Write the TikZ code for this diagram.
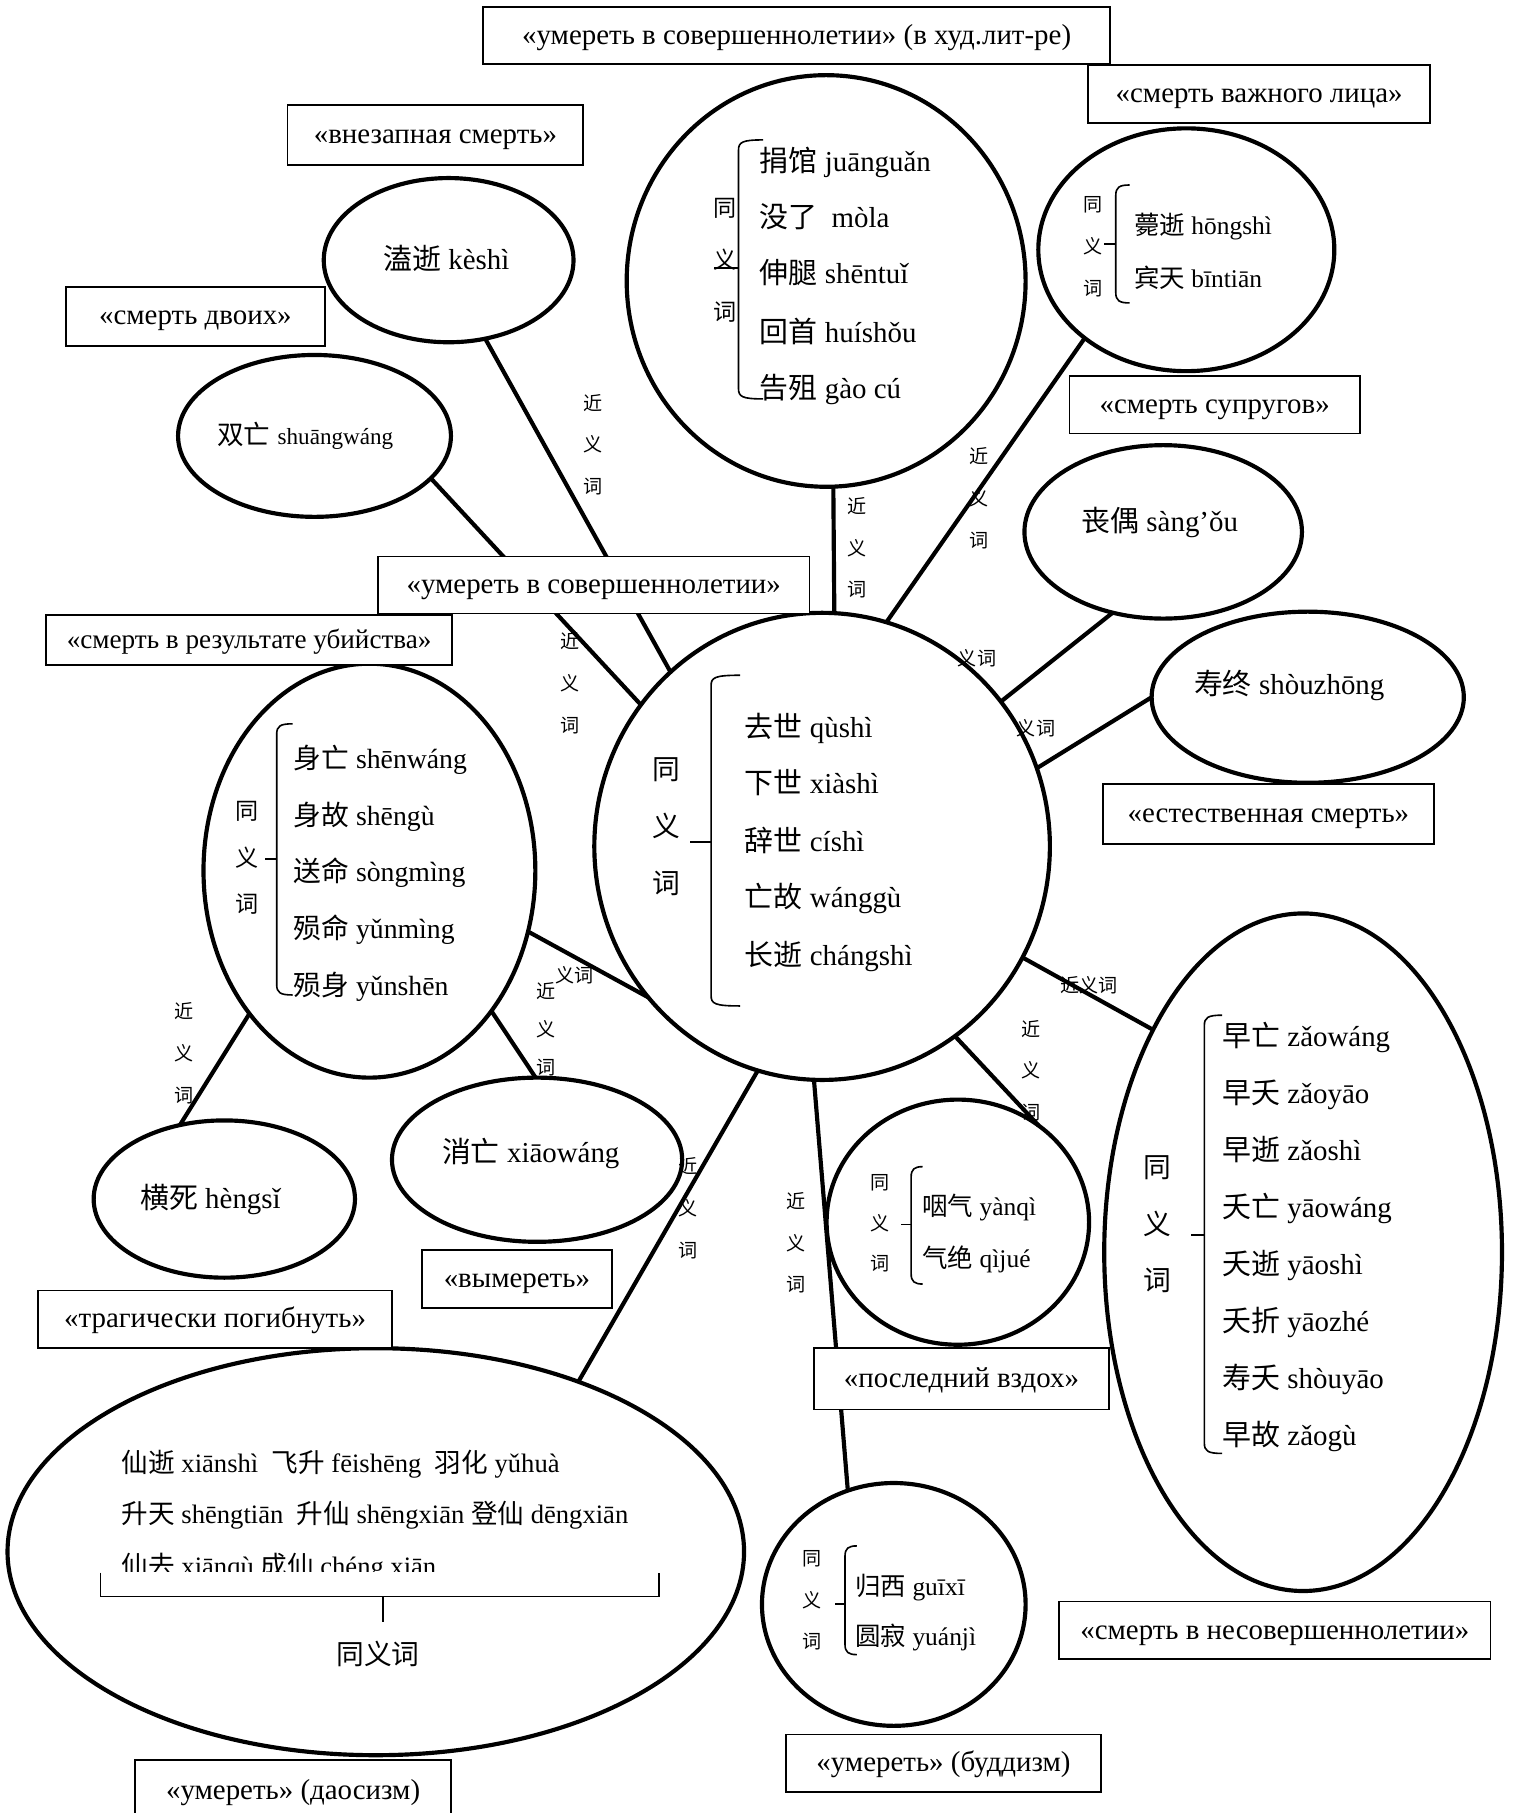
\documentclass[tikz,border=0pt]{standalone}
\usepackage{fontspec}
\setmainfont{Liberation Serif}
\newfontfamily\zhfont{Noto Sans CJK SC}
\usetikzlibrary{shapes.geometric}
\newcommand{\zh}[1]{{\zhfont #1}}
\newcommand{\mybrace}[6]{%
  \draw[brk] (#4,#2) .. controls (#1+3,#2) and (#1,#2+2) .. (#1,#2+9) -- (#1,#3-9) .. controls (#1,#3-2) and (#1+3,#3) .. (#4,#3);
  \draw[brk] (#1,#5) -- (#6,#5);}
\tikzset{
  ell/.style={draw, ellipse, line width=3.6pt, fill=white, inner sep=0pt, outer sep=0pt},
  conn/.style={line width=3.6pt},
  bx/.style={draw, rectangle, line width=1.5pt, fill=white, inner sep=0pt, text height=20pt, text depth=5pt, font=\fontsize{25}{30}\selectfont},
  brk/.style={line width=1.4pt},
  vl/.style={font=\zhfont\fontsize{16.5}{36}\selectfont, align=center, inner sep=0pt},
  hl/.style={font=\zhfont\fontsize{16.5}{20}\selectfont, inner sep=0pt},
  item/.style={anchor=base west, inner sep=0pt, font=\fontsize{25}{30}\selectfont},
  sitem/.style={anchor=base west, inner sep=0pt, font=\fontsize{22}{26}\selectfont},
  single/.style={anchor=base, inner sep=0pt, font=\fontsize{25}{30}\selectfont},
}
\begin{document}
\begin{tikzpicture}[x=1pt,y=-1pt]
\useasboundingbox (0,0) rectangle (1312,1568);
\fill[white] (0,0) rectangle (1312,1568);

% ellipses
\node[ell, minimum width=345, minimum height=356] (eTop) at (714.5,243) {};
\node[ell, minimum width=256, minimum height=210] (eTR) at (1026,216) {};
\node[ell, minimum width=216, minimum height=142] (eKeshi) at (388,225) {};
\node[ell, minimum width=236, minimum height=140] (eShuang) at (272,377) {};
\node[ell, minimum width=240, minimum height=150] (eSang) at (1006,460) {};
\node[ell, minimum width=270, minimum height=148] (eShou) at (1131,603) {};
\node[ell, minimum width=394, minimum height=404] (eC) at (711,732) {};
\node[ell, minimum width=287, minimum height=358] (eL) at (319.5,753) {};
\node[ell, minimum width=251, minimum height=142] (eXiao) at (464.5,1003) {};
\node[ell, minimum width=226, minimum height=136] (eHeng) at (194,1037) {};
\node[ell, minimum width=227, minimum height=212] (eYan) at (828.4,1057) {};
\node[ell, minimum width=344, minimum height=586] (eR) at (1127,1083) {};
\node[ell, minimum width=637, minimum height=352] (eBL) at (325,1342) {};
\node[ell, minimum width=228, minimum height=210] (eGui) at (773,1387.6) {};

% connectors
\draw[conn] (eTop.-88.8) -- (eC.87.9);
\draw[conn] (eKeshi.-65.1) -- (eC.131.6);
\draw[conn] (eShuang.-20.6) -- (eC.142.55);
\draw[conn] (eTR.-139.8) -- (eC.74.7);
\draw[conn] (eSang.-122.4) -- (eC.39.9);
\draw[conn] (eShou.180) -- (eC.20.6);
\draw[conn] (eC.-29.2) -- (eR.124.8);
\draw[conn] (eC.-55.1) -- (eYan.50.9);
\draw[conn] (eC.-92.3) -- (eGui.112.1);
\draw[conn] (eC.-106) -- (eBL.40.07);
\draw[conn] (eL.-21.1) -- (eC.-139.7);
\draw[conn] (eL.-49.7) -- (eXiao.91.4);
\draw[conn] (eL.-130.1) -- (eHeng.121.8);

% center circle
\node[vl, font=\zhfont\fontsize{24}{49.5}\selectfont] (cS) at (576.5,715) {同\\义\\词};
\mybrace{615}{584}{870}{640}{728}{597}
\node[item] (c1) at (644,637.4) {\zh{去世} qùshì};
\node[item] (c2) at (644,686.5) {\zh{下世} xiàshì};
\node[item] (c3) at (644,736) {\zh{辞世} císhì};
\node[item] (c4) at (644,785) {\zh{亡故} wánggù};
\node[item] (c5) at (644,835) {\zh{长逝} chángshì};

% top circle
\node[vl, font=\zhfont\fontsize{20}{45}\selectfont] (tS) at (626.7,225) {同\\义\\词};
\mybrace{638.7}{121}{345}{660}{231.8}{617.5}
\node[item] (t1) at (657,148) {\zh{捐馆} juānguǎn};
\node[item] (t2) at (657,196.4) {\zh{没了}\hspace{12pt}mòla};
\node[item] (t3) at (657,245.4) {\zh{伸腿} shēntuǐ};
\node[item] (t4) at (657,295.8) {\zh{回首} huíshǒu};
\node[item] (t5) at (657,344.8) {\zh{告殂} gào cú};

% top right circle
\node[vl] (trS) at (945,213.3) {同\\义\\词};
\mybrace{965}{160}{262}{977}{211}{955}
\node[sitem] (tr1) at (980.7,202.6) {\zh{薨逝} hōngshì};
\node[sitem] (tr2) at (980.7,248.7) {\zh{宾天} bīntiān};

% left circle
\node[vl, font=\zhfont\fontsize{20}{40}\selectfont] (lS) at (213.3,742) {同\\义\\词};
\mybrace{239.3}{626}{860.5}{253}{743}{229}
\node[item, font=\fontsize{24}{30}\selectfont] (l1i) at (253.7,664.7) {\zh{身亡} shēnwáng};
\node[item, font=\fontsize{24}{30}\selectfont] (l2i) at (253.7,713.8) {\zh{身故} shēngù};
\node[item, font=\fontsize{24}{30}\selectfont] (l3i) at (253.7,762.8) {\zh{送命} sòngmìng};
\node[item, font=\fontsize{24}{30}\selectfont] (l4i) at (253.7,811.6) {\zh{殒命} yǔnmìng};
\node[item, font=\fontsize{24}{30}\selectfont] (l5i) at (253.7,860.9) {\zh{殒身} yǔnshēn};

% yanqi circle
\node[vl, font=\zhfont\fontsize{16.5}{35}\selectfont] (yS) at (761,1058) {同\\义\\词};
\mybrace{788}{1009}{1110.5}{798}{1059}{779}
\node[sitem] (y1) at (797.6,1051.6) {\zh{咽气} yànqì};
\node[sitem] (y2) at (797.6,1096) {\zh{气绝} qìjué};

% guixi circle
\node[vl] (gS) at (702,1384) {同\\义\\词};
\mybrace{730.8}{1337}{1431}{741}{1387}{722}
\node[sitem] (g1) at (739.5,1380) {\zh{归西} guīxī};
\node[sitem] (g2) at (739.5,1423.5) {\zh{圆寂} yuánjì};

% right ellipse
\node[vl, font=\zhfont\fontsize{24}{49}\selectfont] (rS) at (1001.3,1059) {同\\义\\词};
\mybrace{1041.6}{878}{1257}{1057}{1068}{1030}
\node[item] (r1) at (1057,905) {\zh{早亡} zǎowáng};
\node[item] (r2) at (1057,954) {\zh{早夭} zǎoyāo};
\node[item] (r3) at (1057,1003.5) {\zh{早逝} zǎoshì};
\node[item] (r4) at (1057,1053) {\zh{夭亡} yāowáng};
\node[item] (r5) at (1057,1102) {\zh{夭逝} yāoshì};
\node[item] (r6) at (1057,1151.5) {\zh{夭折} yāozhé};
\node[item] (r7) at (1057,1201) {\zh{寿夭} shòuyāo};
\node[item] (r8) at (1057,1250.5) {\zh{早故} zǎogù};

% bottom-left ellipse
\node[sitem, font=\fontsize{23}{27}\selectfont] (bl1) at (105,1273.5) {\zh{仙逝} xiānshì\ \ \zh{飞升} fēishēng\ \ \zh{羽化} yǔhuà};
\node[sitem, font=\fontsize{23}{27}\selectfont] (bl2) at (105,1318) {\zh{升天} shēngtiān\ \ \zh{升仙} shēngxiān \zh{登仙} dēngxiān};
\begin{scope}
\clip (0,1320) rectangle (1312,1359);
\node[sitem, font=\fontsize{23}{27}\selectfont] (bl3) at (105,1363) {\zh{仙去} xiānqù \zh{成仙} chéng xiān};
\end{scope}
\draw[brk] (86.8,1360) -- (86.8,1380.8) -- (570,1380.8) -- (570,1360);
\draw[brk] (331,1380.8) -- (331,1402.5);
\node[hl, font=\zhfont\fontsize{24}{28}\selectfont] (blS) at (327,1430) {同义词};

% single ellipses
\node[single] (sK) at (386,233) {\zh{溘逝} kèshì};
\node[single] (sSh) at (264,384) {{\zhfont\fontsize{23}{28}\selectfont 双亡} {\fontsize{20}{24}\selectfont shuāngwáng}};
\node[single] (sSa) at (1003,460) {\zh{丧偶} sàng’ǒu};
\node[single] (sSo) at (1115,601) {\zh{寿终} shòuzhōng};
\node[single] (sX) at (459,1005) {\zh{消亡} xiāowáng};
\node[single] (sH) at (182,1045) {\zh{横死} hèngsǐ};

% labels
\node[vl] (n1) at (512.8,384.5) {近\\义\\词};
\node[vl] (n2) at (741.5,474) {近\\义\\词};
\node[vl] (n3) at (846.6,431) {近\\义\\词};
\node[vl] (n4) at (493,591) {近\\义\\词};
\node[hl] (n5) at (845,569) {义词};
\node[hl] (n6) at (896,630) {义词};
\node[hl] (n7) at (942,852) {近义词};
\node[vl] (n8) at (892,926) {近\\义\\词};
\node[vl] (n9) at (688.4,1075) {近\\义\\词};
\node[vl] (n10) at (595,1045) {近\\义\\词};
\node[hl] (n11) at (497,843) {义词};
\node[vl, font=\zhfont\fontsize{16.5}{33}\selectfont] (n12) at (472,890) {近\\义\\词};
\node[vl] (n13) at (159,911) {近\\义\\词};

% boxes
\node[bx, minimum width=542, minimum height=49.6] (b1) at (689,30.8) {«умереть в совершеннолетии» (в худ.лит-ре)};
\node[bx, minimum width=296, minimum height=50.6] (b2) at (1089,81.3) {«смерть важного лица»};
\node[bx, minimum width=255.7, minimum height=51.7] (b3) at (376.6,116.8) {«внезапная смерть»};
\node[bx, minimum width=224, minimum height=51] (b4) at (169,273.5) {«смерть двоих»};
\node[bx, minimum width=251, minimum height=50] (b5) at (1050.5,350) {«смерть супругов»};
\node[bx, minimum width=373, minimum height=49.4] (b6) at (513.5,506) {«умереть в совершеннолетии»};
\node[bx, minimum width=351, minimum height=43, font=\fontsize{23.5}{28}\selectfont] (b7) at (215.5,553.5) {«смерть в результате убийства»};
\node[bx, minimum width=286, minimum height=52] (b8) at (1097,704) {«естественная смерть»};
\node[bx, minimum width=164, minimum height=50] (b9) at (447,1106) {«вымереть»};
\node[bx, minimum width=306, minimum height=50] (b10) at (186,1141) {«трагически погибнуть»};
\node[bx, minimum width=255, minimum height=53] (b11) at (831.5,1192.5) {«последний вздох»};
\node[bx, minimum width=373, minimum height=50] (b12) at (1102.5,1410) {«смерть в несовершеннолетии»};
\node[bx, minimum width=272, minimum height=50] (b13) at (816,1525) {«умереть» (буддизм)};
\node[bx, minimum width=273, minimum height=54] (b14) at (253.5,1549) {«умереть» (даосизм)};
\end{tikzpicture}
\end{document}
